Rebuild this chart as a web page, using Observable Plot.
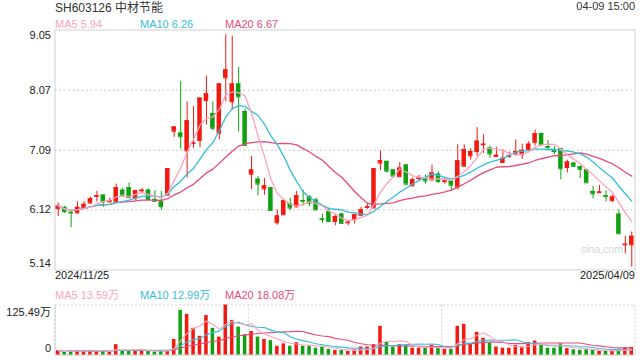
<!DOCTYPE html>
<html><head><meta charset="utf-8">
<script src="https://cdn.jsdelivr.net/npm/d3@7"></script>
<script src="https://cdn.jsdelivr.net/npm/@observablehq/plot@0.6"></script>
<style>
body{margin:0;background:#fff;}
#root{position:relative;width:640px;height:360px;overflow:hidden;background:#fff;font-family:"Liberation Sans",Arial,"Noto Sans CJK SC",sans-serif;}
.t{position:absolute;white-space:nowrap;line-height:1;}
#price,#vol{position:absolute;left:0;}
#price{top:28px;}
#vol{top:303px;}
</style></head>
<body><div id="root"><div id="price"></div><div id="vol"></div></div>
<script>
// ---- data ----
const title = "SH603126 中材节能";
const timeLabel = "04-09 15:00";
const priceLegend = ["MA5 5.94", "MA10 6.26", "MA20 6.67"];
const volLegend = ["MA5 13.59万", "MA10 12.99万", "MA20 18.08万"];
const priceTicks = [9.05, 8.07, 7.09, 6.12, 5.14];
const volMax = 125.49;
const volTickLabels = ["125.49万", "0"];
const dateLabels = ["2024/11/25", "2025/04/09"];
const watermark = "sina.com";

const open  = [6.14,6.16,6.08,6.07,6.16,6.23,6.34,6.36,6.25,6.25, 6.44,6.48,6.30,6.43,6.44,6.29,6.25,6.36,7.40,7.37, 7.08,7.20,7.25,7.90,7.69,7.37,8.27,7.88,8.17,7.72, 6.70,6.62,6.46,6.48,5.91,6.04,6.22,6.17,6.27,6.33, 6.28,5.97,6.09,5.93,6.05,5.91,5.96,6.03,6.16,6.15, 6.88,6.91,6.77,6.66,6.85,6.51,6.63,6.64,6.61,6.70, 6.58,6.59,6.49,6.83,7.00,7.07,7.18,7.13,6.99,6.89, 6.99,7.04,7.02,7.10,7.22,7.36,7.15,7.08,7.12,6.81, 6.88,6.82,6.77,6.42,6.40,6.35,6.27,6.05,5.55,5.55];
const high  = [6.23,6.18,6.09,6.25,6.25,6.33,6.42,6.36,6.31,6.54, 6.47,6.56,6.44,6.47,6.46,6.43,6.42,6.79,7.47,8.21, 7.88,7.80,7.94,8.30,7.88,8.18,8.97,8.95,8.44,7.76, 6.99,6.66,6.63,6.48,6.12,6.29,6.31,6.42,6.44,6.35, 6.31,6.05,6.15,6.04,6.07,5.95,6.05,6.16,6.21,6.79, 7.08,6.91,6.77,6.89,6.85,6.64,6.68,6.69,6.85,6.74, 6.64,6.59,7.18,7.18,7.12,7.46,7.34,7.16,7.14,7.10, 7.06,7.26,7.19,7.23,7.42,7.37,7.25,7.15,7.12,6.93, 6.90,6.83,6.78,6.50,6.52,6.43,6.36,6.12,5.69,5.76];
const low   = [6.01,6.06,5.83,6.05,6.13,6.22,6.25,6.16,6.23,6.24, 6.35,6.30,6.28,6.38,6.28,6.24,6.11,6.35,7.30,7.11, 6.64,7.12,7.13,7.50,7.41,7.26,7.88,7.74,7.39,7.17, 6.45,6.35,6.36,6.11,5.87,6.03,6.11,6.15,6.18,6.17, 6.11,5.90,5.92,5.86,5.89,5.86,5.89,6.01,6.13,6.15, 6.76,6.72,6.66,6.65,6.51,6.50,6.58,6.54,6.58,6.55, 6.54,6.42,6.44,6.82,6.93,6.99,7.04,6.96,6.98,6.88, 6.96,6.99,6.94,7.07,7.16,7.16,7.08,7.02,6.61,6.72, 6.81,6.63,6.56,6.30,6.39,6.25,6.24,5.73,5.40,5.19];
const close = [6.18,6.09,6.07,6.16,6.21,6.30,6.35,6.25,6.27,6.48, 6.36,6.32,6.43,6.44,6.29,6.26,6.17,6.79,7.47,7.31, 7.57,7.21,7.94,8.01,7.45,8.17,8.40,8.17,7.96,7.17, 6.77,6.54,6.51,6.11,6.02,6.27,6.15,6.35,6.26,6.23, 6.12,5.96,5.93,6.01,5.90,5.92,6.04,6.12,6.17,6.79, 6.92,6.75,6.67,6.80,6.54,6.61,6.64,6.59,6.72,6.58, 6.59,6.52,6.92,7.10,7.07,7.24,7.19,7.03,7.01,6.96, 7.00,7.07,7.09,7.19,7.36,7.18,7.14,7.07,6.79,6.90, 6.83,6.78,6.56,6.38,6.41,6.34,6.33,5.73,5.56,5.69];
// volume in 万
const volume = [11,7,11,11,11,11,11,9,7,26, 11,11,11,11,11,7,11,11,39,112, 102,67,47,99,67,45,125.49,87,70,51, 59,45,39,36,22,28,22,31,22,22, 17,20,14,11,11,9,13,20,20,26, 72,32,20,26,22,17,17,17,24,17, 14,14,72,77,28,57,42,30,20,17, 17,24,20,31,35,26,17,17,28,16, 13,12,13,13,10,10,9,12,18,19];

// ---- styles ----
const RED = "#f2190f", GREEN = "#10a010";
const MA_COLORS = ["#fca3bd", "#35bedc", "#e8497b"];
const MA_K = [5, 10, 20];
const GRID = "#d9d9d9", BORDER = "#cfcfcf";
const FONT = '"Liberation Sans", Arial, "Noto Sans CJK SC", sans-serif';

const n = close.length;
const idx = d3.range(n);
const candles = idx.map(i => ({i, open: open[i], high: high[i], low: low[i], close: close[i], volume: volume[i]}));
const colorOf = d => d.close >= d.open ? RED : GREEN;

const W = 640, ML = 54.5, MR = 5.5;
const step = (W - ML - MR) / n;
const xScale = {type: "band", domain: idx, paddingInner: 0.3, paddingOuter: 0.15, align: 0.5, axis: null};
const baseStyle = {fontFamily: FONT, fontSize: "11px", color: "#222", background: "transparent", overflow: "visible"};

const maLines = (field, width) => MA_K.map((k, j) => ({k, color: MA_COLORS[j]})).reverse().map(m =>
  Plot.lineY(candles, Plot.windowY({k: m.k, anchor: "end"}, {x: "i", y: field, stroke: m.color, strokeWidth: width})));

const price = Plot.plot({
  width: W, height: 262,
  marginLeft: ML, marginRight: MR, marginTop: 1.5, marginBottom: 20.5,
  x: xScale,
  y: {domain: [priceTicks[4], priceTicks[0]], label: null},
  color: {type: "identity"},
  style: baseStyle,
  marks: [
    Plot.ruleY(priceTicks.slice(1, 4), {stroke: GRID, strokeDasharray: "2,2.5", strokeWidth: 1.5}),
    Plot.frame({stroke: BORDER}),
    Plot.axisY(priceTicks.slice(1, 4), {tickSize: 0, tickPadding: 4, tickFormat: d => d.toFixed(2), label: null}),
    Plot.axisY([priceTicks[0]], {tickSize: 0, tickPadding: 4, dy: 5.5, tickFormat: d => d.toFixed(2), label: null}),
    Plot.axisY([priceTicks[4]], {tickSize: 0, tickPadding: 4, dy: -6.5, tickFormat: d => d.toFixed(2), label: null}),
    Plot.ruleX(candles, {x: "i", y1: "low", y2: "high", stroke: colorOf, strokeWidth: 1}),
    Plot.barY(candles, {x: "i", y1: "open", y2: "close", fill: colorOf}),
    Plot.tickY(candles, {x: "i", y: "open", stroke: colorOf}),
    Plot.tickY(candles, {x: "i", y: "close", stroke: colorOf}),
    ...maLines("close", 1.3),
    Plot.text([0], {x: d => d, text: () => dateLabels[0], frameAnchor: "bottom", textAnchor: "start", dx: -step / 2, dy: 9, fill: "#222"}),
    Plot.text([n - 1], {x: d => d, text: () => dateLabels[1], frameAnchor: "bottom", textAnchor: "end", dx: step / 2, dy: 9, fill: "#222"})
  ]
});
document.getElementById("price").appendChild(price);

const vol = Plot.plot({
  width: W, height: 54,
  marginLeft: ML, marginRight: MR, marginTop: 1.5, marginBottom: 2.5,
  x: xScale,
  y: {domain: [0, volMax], label: null},
  color: {type: "identity"},
  style: baseStyle,
  marks: [
    Plot.frame({stroke: BORDER, strokeDasharray: "2,2"}),
    Plot.ruleX([30, 60], {dx: -step / 2, stroke: BORDER, strokeDasharray: "2,2"}),
    Plot.ruleX([0], {dx: -step / 2, stroke: BORDER}),
    Plot.ruleY([0], {stroke: BORDER}),
    Plot.barY(candles, {x: "i", y: "volume", fill: colorOf, insetLeft: 0.5, insetRight: 0.5}),
    ...maLines("volume", 1.1),
    Plot.axisY([volMax], {tickSize: 0, tickPadding: 4, dy: 7.4, tickFormat: () => volTickLabels[0], label: null}),
    Plot.axisY([0], {tickSize: 0, tickPadding: 4, dy: -6.5, tickFormat: () => volTickLabels[1], label: null})
  ]
});
document.getElementById("vol").appendChild(vol);

// ---- texts around the charts ----
const root = document.getElementById("root");
function addText(str, css) {
  const el = document.createElement("div");
  el.className = "t";
  el.textContent = str;
  Object.assign(el.style, css);
  root.appendChild(el);
}
addText(title, {left: "55px", top: "2px", fontSize: "12px", color: "#333"});
addText(timeLabel, {right: "5px", top: "1px", fontSize: "11px", color: "#333"});
const legendX = [55, 140, 225];
priceLegend.forEach((s, j) => addText(s, {left: legendX[j] + "px", top: "19px", fontSize: "11px", color: MA_COLORS[j]}));
volLegend.forEach((s, j) => addText(s, {left: legendX[j] + "px", top: "290px", fontSize: "11px", color: MA_COLORS[j]}));
addText(watermark, {right: "17px", top: "244px", fontSize: "10.5px", color: "#d6d6d6"});
</script>
</body></html>
